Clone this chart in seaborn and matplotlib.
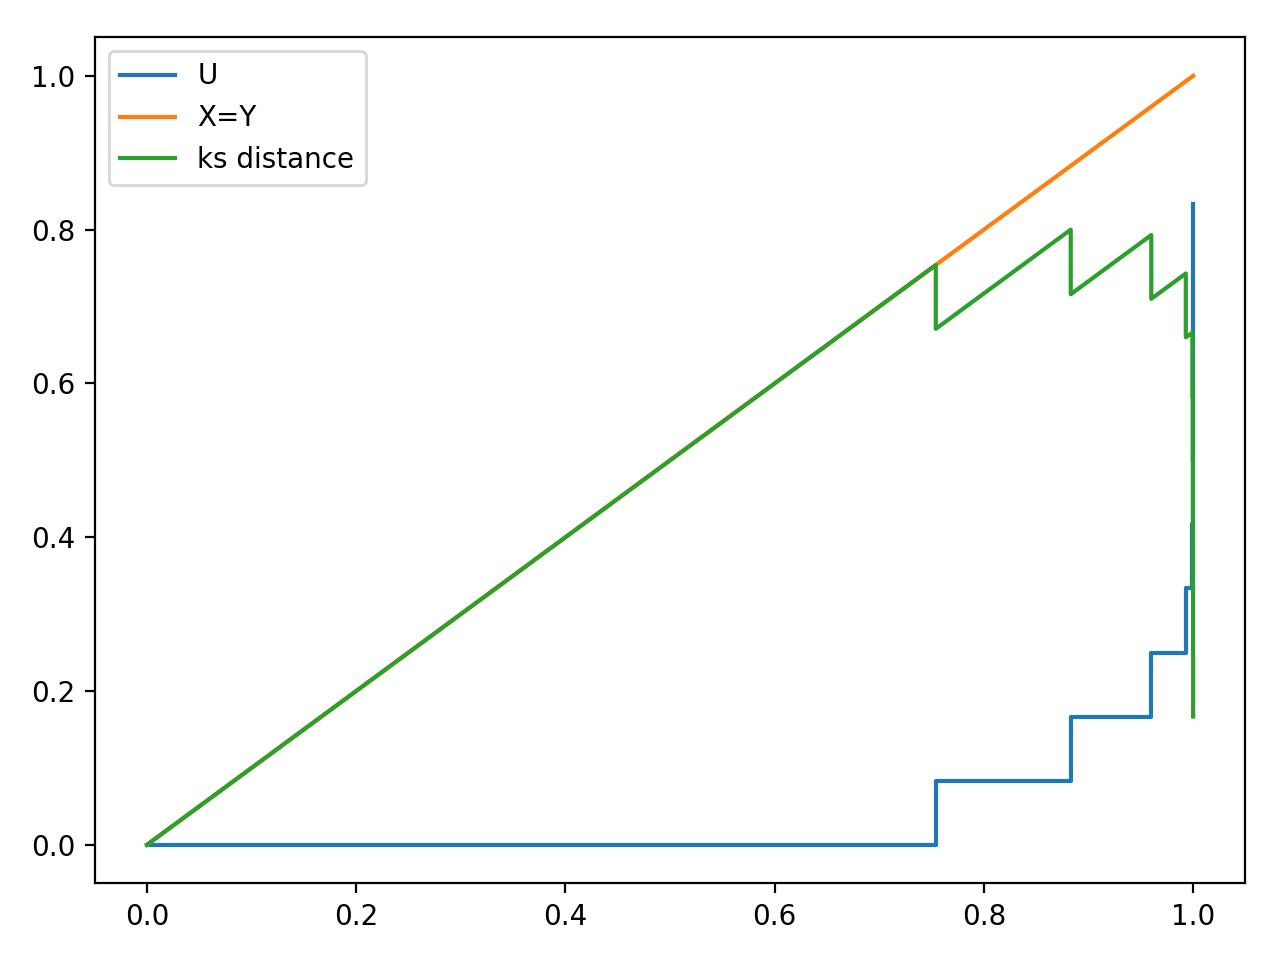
import pandas as pd
import matplotlib
matplotlib.use("Agg")
import matplotlib.pyplot as plt
import seaborn as sns

# Points where the empirical curve U jumps (sample values, sorted)
u_x = [0.0, 0.754, 0.754, 0.883, 0.883, 0.960, 0.960, 0.993, 0.993,
       0.9993, 0.9993, 0.9996, 0.9996, 0.9998, 0.9998, 0.9999, 0.9999,
       0.99995, 0.99995, 1.0, 1.0]
u_y = [0.0, 0.0, 0.0833, 0.0833, 0.1667, 0.1667, 0.25, 0.25, 0.3333,
       0.3333, 0.4167, 0.4167, 0.5, 0.5, 0.5833, 0.5833, 0.6667,
       0.6667, 0.75, 0.75, 0.8333]

# Diagonal X=Y
diag_x = [0.0, 1.0]
diag_y = [0.0, 1.0]

# ks distance (X - U)
ks_y = [0.0, 0.754, 0.671, 0.800, 0.716, 0.793, 0.710, 0.743, 0.660,
        0.666, 0.583, 0.583, 0.4996, 0.5001, 0.4165, 0.4166, 0.3332,
        0.3333, 0.2500, 0.2500, 0.1667]

u_df = pd.DataFrame({"x": u_x, "y": u_y})
diag_df = pd.DataFrame({"x": diag_x, "y": diag_y})
ks_df = pd.DataFrame({"x": u_x, "y": ks_y})

fig, ax = plt.subplots(figsize=(6.4, 4.8), dpi=200)
sns.lineplot(data=u_df, x="x", y="y", sort=False, estimator=None,
             color="tab:blue", label="U", ax=ax)
sns.lineplot(data=diag_df, x="x", y="y", sort=False, estimator=None,
             color="tab:orange", label="X=Y", ax=ax)
sns.lineplot(data=ks_df, x="x", y="y", sort=False, estimator=None,
             color="tab:green", label="ks distance", ax=ax)

ax.set_xlabel("")
ax.set_ylabel("")
ax.legend(loc="upper left")
fig.subplots_adjust(left=0.074, right=0.973, top=0.961, bottom=0.080)
plt.savefig("out.png", dpi=200)
